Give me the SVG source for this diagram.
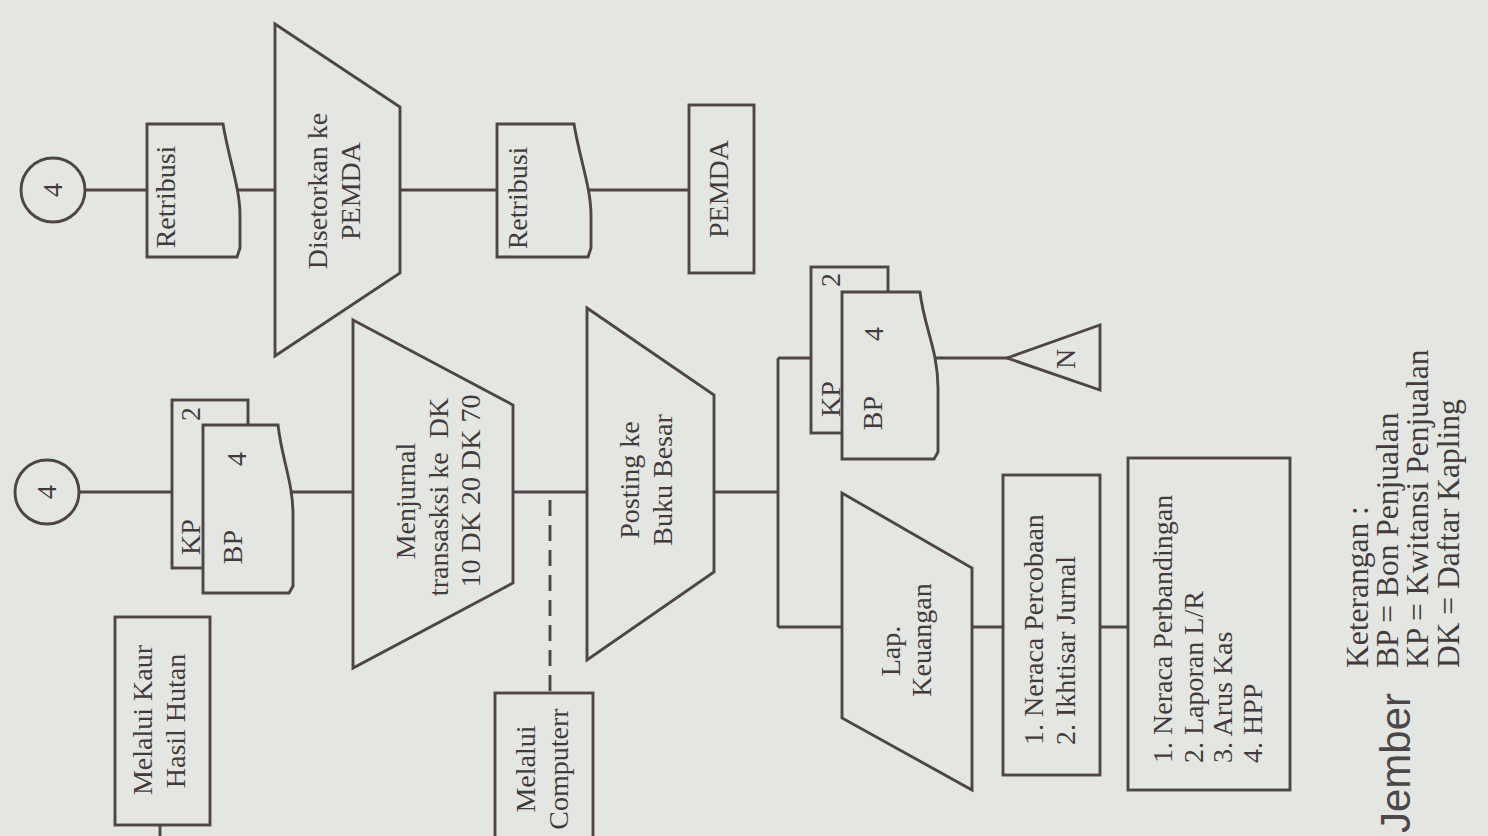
<svg xmlns="http://www.w3.org/2000/svg" width="1488" height="836" viewBox="0 0 1488 836">
<style>
.s{fill:#e4e7e1;stroke:#4f4548;stroke-width:2.9;stroke-linejoin:miter}
.c{fill:none;stroke:#4f4548;stroke-width:2.9}
.d{fill:none;stroke:#4f4548;stroke-width:2.9;stroke-dasharray:16 9}
text{font-family:"Liberation Serif","Times New Roman",serif;font-size:28px;fill:#433a3d}
.m{text-anchor:middle}
.l{font-size:31.5px}
.w{font-family:"Liberation Sans",Arial,sans-serif;font-size:42px;fill:#4d474a}
</style>
<rect width="1488" height="836" fill="#e4e7e1"/>
<g id="connectors">
<path class="c" d="M85,190 H150 M238,190 H278 M398,190 H500 M588,190 H692"/>
<path class="c" d="M79,492 H175 M286,492 H356 M511,492 H590 M712,492 H778 M778,358 V627 M778,358 H814 M778,627 H845"/>
<path class="c" d="M934,358 H1009 M970,627 H1006 M1098,627 H1131 M160,824 V836"/>
<path class="d" d="M550,500 V693"/>
</g>
<g id="conn-top"><circle class="s" cx="53" cy="190" r="32"/><text transform="translate(62,190) rotate(-90)" class="m">4</text></g>
<g id="retribusi1"><path class="s" d="M147,124 H223 C229,160 240,188 240,215 V248 L237,257 H147 Z"/><text transform="translate(175,197) rotate(-90)" class="m">Retribusi</text></g>
<g id="disetorkan"><polygon class="s" points="275,24 400,107 400,273 275,356"/><text transform="translate(327,191) rotate(-90)" class="m">Disetorkan ke</text><text transform="translate(360,191) rotate(-90)" class="m">PEMDA</text></g>
<g id="retribusi2"><path class="s" d="M497,124 H574 C580,160 591,188 591,215 V248 L588,257 H497 Z"/><text transform="translate(527,198) rotate(-90)" class="m">Retribusi</text></g>
<g id="pemda"><rect class="s" x="689" y="105" width="65" height="168"/><text transform="translate(728,189) rotate(-90)" class="m">PEMDA</text></g>
<g id="conn-mid"><circle class="s" cx="47" cy="492" r="32"/><text transform="translate(56,492) rotate(-90)" class="m">4</text></g>
<g id="kp-bp-1"><rect class="s" x="172" y="400" width="76" height="168"/><path class="s" d="M203,425 H278 C282,460 293,482 293,515 V586 L289,593 H203 Z"/><text transform="translate(200,537) rotate(-90)" class="m">KP</text><text transform="translate(200,414) rotate(-90)" class="m">2</text><text transform="translate(242,547) rotate(-90)" class="m">BP</text><text transform="translate(246,459) rotate(-90)" class="m">4</text></g>
<g id="menjurnal"><polygon class="s" points="353,320 513,405 513,583 353,668"/><text transform="translate(415,501) rotate(-90)" class="m">Menjurnal</text><text transform="translate(448,497) rotate(-90)" class="m" style="white-space:pre">transasksi ke  DK</text><text transform="translate(480,491) rotate(-90)" class="m">10 DK 20 DK 70</text></g>
<g id="posting"><polygon class="s" points="587,308 714,395 714,572 587,660"/><text transform="translate(639,480) rotate(-90)" class="m">Posting ke</text><text transform="translate(672,480) rotate(-90)" class="m">Buku Besar</text></g>
<g id="kaur"><rect class="s" x="115" y="617" width="95" height="208"/><text transform="translate(152,720) rotate(-90)" class="m">Melalui Kaur</text><text transform="translate(185,721) rotate(-90)" class="m">Hasil Hutan</text></g>
<g id="computer"><rect class="s" x="495" y="693" width="98" height="210"/><text transform="translate(535,769) rotate(-90)" class="m">Melalui</text><text transform="translate(568,769) rotate(-90)" class="m">Computerr</text></g>
<g id="kp-bp-2"><rect class="s" x="811" y="267" width="77" height="166"/><path class="s" d="M842,292 H920 C924,327 938,350 938,388 V452 L934,459 H842 Z"/><text transform="translate(840,399) rotate(-90)" class="m">KP</text><text transform="translate(840,280) rotate(-90)" class="m">2</text><text transform="translate(882,413) rotate(-90)" class="m">BP</text><text transform="translate(883,334) rotate(-90)" class="m">4</text></g>
<g id="n"><polygon class="s" points="1007,358 1100,325 1100,390"/><text transform="translate(1075,359) rotate(-90)" class="m">N</text></g>
<g id="lap"><polygon class="s" points="842,493 972,568 972,790 842,718"/><text transform="translate(900,651) rotate(-90)" class="m">Lap.</text><text transform="translate(931,640) rotate(-90)" class="m">Keuangan</text></g>
<g id="neraca"><rect class="s" x="1003" y="475" width="97" height="300"/><text transform="translate(1043,745) rotate(-90)">1. Neraca Percobaan</text><text transform="translate(1075,745) rotate(-90)">2. Ikhtisar Jurnal</text></g>
<g id="perbandingan"><rect class="s" x="1128" y="458" width="162" height="332"/><text transform="translate(1172,763) rotate(-90)">1. Neraca Perbandingan</text><text transform="translate(1203,763) rotate(-90)">2. Laporan L/R</text><text transform="translate(1232,763) rotate(-90)">3. Arus Kas</text><text transform="translate(1262,763) rotate(-90)">4. HPP</text></g>
<g id="legend"><text class="l" transform="translate(1368,668) rotate(-90)">Keterangan :</text><text class="l" transform="translate(1398,668) rotate(-90)">BP = Bon Penjualan</text><text class="l" transform="translate(1428,668) rotate(-90)">KP = Kwitansi Penjualan</text><text class="l" transform="translate(1459,668) rotate(-90)">DK = Daftar Kapling</text><text class="w" transform="translate(1410,833) rotate(-90)">Jember</text></g>
</svg>
